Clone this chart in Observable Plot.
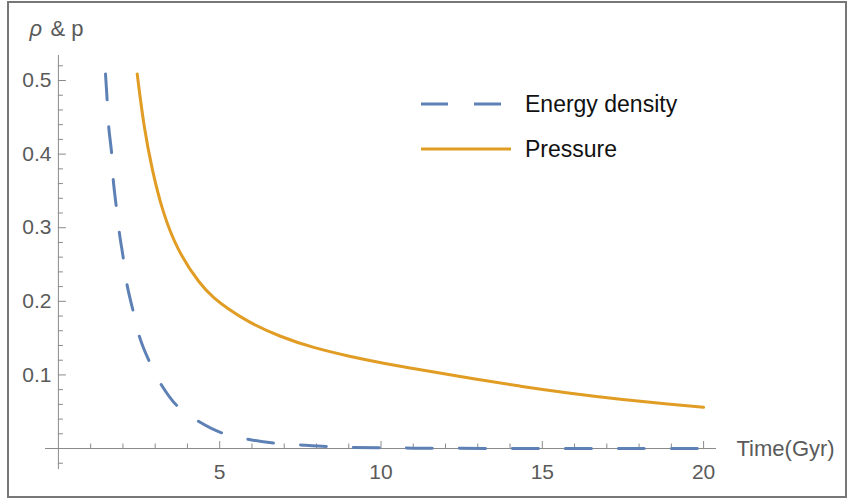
<!DOCTYPE html>
<html>
<head>
<meta charset="utf-8">
<script src="https://cdn.jsdelivr.net/npm/d3@7"></script>
<script src="https://cdn.jsdelivr.net/npm/@observablehq/plot@0.6"></script>
<style>
  html, body { margin: 0; padding: 0; background: #fff; }
  #chart { width: 849px; height: 500px; }
</style>
</head>
<body>
<div id="chart"></div>
<script>
// ---- Data ----
const energyTime = [1.46, 1.51, 1.56, 1.65, 1.70, 1.79, 1.89, 2.01, 2.13, 2.31, 2.52, 2.80, 3.20, 3.68, 4.38, 5.08, 5.95, 6.73, 7.6, 8.3, 9.1, 10, 11, 12, 14, 16, 18, 20];
const energyDensity = [0.509, 0.474, 0.437, 0.401, 0.365, 0.330, 0.293, 0.259, 0.222, 0.188, 0.151, 0.120, 0.086, 0.058, 0.036, 0.021, 0.012, 0.0072, 0.0045, 0.0027, 0.0016, 0.0009, 0.0005, 0.0003, 0.0001, 0.00003, 0.00001, 0];
const pressureTime = [2.443, 2.647, 2.908, 3.218, 3.683, 4.405, 4.817, 5.232, 5.852, 6.884, 7.917, 8.952, 9.985, 11.84, 12.77, 14.32, 15.87, 17.42, 18.97, 20.0];
const pressure = [0.509, 0.437, 0.378, 0.323, 0.269, 0.222, 0.2045, 0.1905, 0.1725, 0.1515, 0.1368, 0.1259, 0.1164, 0.1023, 0.0955, 0.0845, 0.0750, 0.0668, 0.0600, 0.0560];

const xMajorTicks = [5, 10, 15, 20];
const xMinorTicks = [1, 2, 3, 4, 6, 7, 8, 9, 11, 12, 13, 14, 16, 17, 18, 19];
const yMajorTicks = [0.1, 0.2, 0.3, 0.4, 0.5];
const yMinorTicks = [-0.02, 0.02, 0.04, 0.06, 0.08, 0.12, 0.14, 0.16, 0.18, 0.22, 0.24, 0.26, 0.28, 0.32, 0.34, 0.36, 0.38, 0.42, 0.44, 0.46, 0.48, 0.52];
const seriesNames = ["Energy density", "Pressure"];
const xLabel = "Time(Gyr)";
const yLabelSymbol = "ρ";
const yLabelRest = "& p";

// ---- Layout ----
const W = 849, H = 500;
const mL = 45, mR = 133, mT = 55, mB = 31;
const xDomain = [-0.4, 20.4];
const yDomain = [-0.0285, 0.534];
const xPerPx = (xDomain[1] - xDomain[0]) / (W - mL - mR);
const yPerPx = (yDomain[1] - yDomain[0]) / (H - mT - mB);

const blue = "#5E81B5", orange = "#E19C24";
const axisColor = "#8a8a8a", labelColor = "#5a5a5a";
const font = "'Liberation Sans', Arial, sans-serif";

const energyData = energyTime.map((t, i) => ({t, v: energyDensity[i]}));
const pressureData = pressureTime.map((t, i) => ({t, v: pressure[i]}));

const plot = Plot.plot({
  width: W, height: H,
  marginLeft: mL, marginRight: mR, marginTop: mT, marginBottom: mB,
  x: {domain: xDomain, axis: null},
  y: {domain: yDomain, axis: null},
  style: {fontFamily: font, fontSize: "21px", background: "white", overflow: "visible"},
  marks: [
    Plot.ruleY([0], {stroke: axisColor, strokeWidth: 1}),
    Plot.ruleX([0], {stroke: axisColor, strokeWidth: 1}),
    Plot.ruleX(xMajorTicks, {x: d => d, y1: 0, y2: 7 * yPerPx, stroke: axisColor}),
    Plot.ruleX(xMinorTicks, {x: d => d, y1: 0, y2: 4.5 * yPerPx, stroke: axisColor}),
    Plot.ruleY(yMajorTicks, {y: d => d, x1: 0, x2: 8 * xPerPx, stroke: axisColor}),
    Plot.ruleY(yMinorTicks, {y: d => d, x1: 0, x2: 5 * xPerPx, stroke: axisColor}),
    Plot.text(xMajorTicks, {x: d => d, y: 0, dy: 24, text: d => String(d), fill: labelColor, fontSize: 21}),
    Plot.text(yMajorTicks, {x: 0, y: d => d, dx: -7, text: d => d.toFixed(1), textAnchor: "end", fill: labelColor, fontSize: 21}),
    Plot.text([xLabel], {x: xDomain[1], y: 0, dx: 20, text: d => d, textAnchor: "start", fill: labelColor, fontSize: 22}),
    Plot.text([yLabelSymbol], {x: 0, y: yDomain[1], dx: -29, dy: -27, text: d => d, textAnchor: "start", fill: labelColor, fontSize: 22, fontStyle: "italic"}),
    Plot.text([yLabelRest], {x: 0, y: yDomain[1], dx: -8, dy: -27, text: d => d, textAnchor: "start", fill: labelColor, fontSize: 22}),
    Plot.line(pressureData, {x: "t", y: "v", stroke: orange, strokeWidth: 3, curve: "basis"}),
    Plot.line(energyData, {x: "t", y: "v", stroke: blue, strokeWidth: 3, strokeDasharray: "26,27", curve: "catmull-rom"})
  ]
});

const svg = d3.select(plot);
// outer frame
svg.append("rect")
  .attr("x", 8).attr("y", 2).attr("width", 838).attr("height", 495)
  .attr("fill", "none").attr("stroke", "#777").attr("stroke-width", 2);

// legend
const legend = svg.append("g")
  .attr("font-family", font).attr("font-size", 23).attr("text-anchor", "start");
const legendItems = [
  {name: seriesNames[0], color: blue, dash: "27,26", y: 104},
  {name: seriesNames[1], color: orange, dash: null, y: 149}
];
legendItems.forEach(it => {
  const l = legend.append("line")
    .attr("x1", 421).attr("x2", 511).attr("y1", it.y).attr("y2", it.y)
    .attr("stroke", it.color).attr("stroke-width", 3);
  if (it.dash) l.attr("stroke-dasharray", it.dash);
  legend.append("text").attr("x", 525).attr("y", it.y).attr("dy", "0.35em")
    .attr("text-anchor", "start").attr("fill", "#111").text(it.name);
});

document.getElementById("chart").appendChild(plot);
</script>
</body>
</html>
